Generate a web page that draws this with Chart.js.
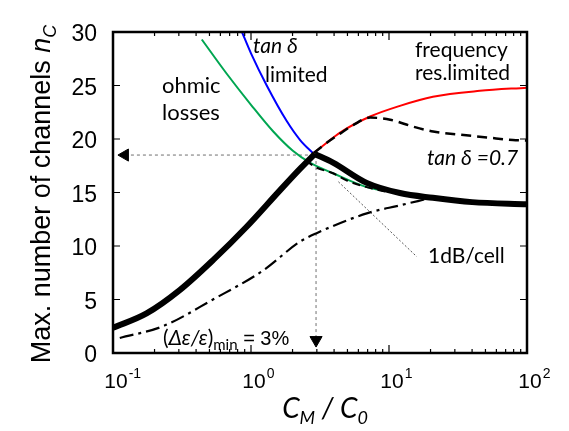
<!DOCTYPE html>
<html>
<head>
<meta charset="utf-8">
<script src="https://cdn.jsdelivr.net/npm/chart.js@4.4.1/dist/chart.umd.min.js"></script>
<style>
html, body { margin: 0; padding: 0; background: #fff; }
</style>
</head>
<body>
<canvas id="channelsChart" width="569" height="431"></canvas>
<script>
// values: x = C_M / C_0 (log), y = max. number of channels n_C
var riseX = [0.1, 0.175, 0.306, 0.533, 0.93, 1.62, 2.3, 2.9];
var riseY = [2.35, 3.7, 5.9, 8.7, 11.8, 15.2, 17.3, 18.6];
var fallX = [2.9, 3.93, 6.9, 12, 20.8, 40, 100];
var fallY = [18.6, 17.8, 15.9, 14.95, 14.5, 14.1, 13.9];

var tanUpX = [2.85, 3.5, 4.42, 5.5, 7.3, 10.2, 15, 20.9, 32.7, 51.2, 79, 100];
var tanUpY = [18.7, 19.6, 20.5, 21.3, 22.0, 21.8, 21.15, 20.7, 20.4, 20.15, 19.9, 19.85];
var tanLowX = [2.5, 2.9, 3.93, 5, 6.9, 10];
var tanLowY = [18.0, 17.4, 16.8, 16.1, 15.5, 15.0];

var freqX = [2.85, 3.5, 4.42, 7.3, 12, 20.8, 45.5, 100];
var freqY = [18.7, 19.6, 20.6, 22.1, 23.1, 23.95, 24.5, 24.8];
var lossX = [0.86, 1.0, 1.3, 1.81, 2.27, 2.85];
var lossY = [30, 28.0, 25.0, 21.7, 19.9, 18.6];
var ohmX = [0.44, 0.667, 1.0, 1.45, 2.01, 2.67, 3.93, 6.9, 12];
var ohmY = [29.3, 26.1, 23.2, 20.7, 18.9, 17.8, 16.8, 15.5, 14.95];

var epsX = [0.112, 0.23, 0.53, 1.22, 2.26, 2.99, 6.9, 12, 18.8];
var epsY = [1.4, 2.5, 5.0, 7.7, 10.4, 11.2, 13.05, 13.8, 14.4];

// guide arrows and the leader for "1dB/cell"
var hArrowX = [0.122, 2.96];
var hArrowY = [18.5, 18.5];
var vArrowX = [2.96, 2.96];
var vArrowY = [18.5, 1.21];
var leadX = [4.3, 15.9];
var leadY = [16.0, 9.0];

var yTicks = [0, 5, 10, 15, 20, 25, 30];
var xDecades = [0.1, 1, 10, 100];
var xExponents = ['-1', '0', '1', '2'];

var SANS = "'Liberation Sans', Arial, sans-serif";
var CAL = "Lato, 'Open Sans', sans-serif";

function pts(xs, ys) {
    return xs.map(function (x, i) { return { x: x, y: ys[i] }; });
}

function curve(data, color, width, dash) {
    return {
        data: data,
        borderColor: color,
        borderWidth: width,
        borderDash: dash || [],
        pointRadius: 0,
        fill: false,
        cubicInterpolationMode: 'monotone'
    };
}

function drawRuns(ctx, runs, x, y) {
    runs.forEach(function (r) {
        ctx.font = r.font;
        ctx.fillText(r.text, x, y + (r.dy || 0));
        x += ctx.measureText(r.text).width;
    });
}
function runsWidth(ctx, runs) {
    var w = 0;
    runs.forEach(function (r) { ctx.font = r.font; w += ctx.measureText(r.text).width; });
    return w;
}

// frame, inward ticks, x labels, titles and annotations
var decorPlugin = {
    id: 'decor',
    afterDatasetsDraw: function (chart) {
        var ctx = chart.ctx, a = chart.chartArea;
        var xs = chart.scales.x, ys = chart.scales.y;
        ctx.save();
        ctx.strokeStyle = '#000';
        ctx.fillStyle = '#000';

        // ticks
        ctx.lineWidth = 1.2;
        ctx.beginPath();
        xDecades.forEach(function (d, i) {
            var px = xs.getPixelForValue(d);
            ctx.moveTo(px, a.bottom); ctx.lineTo(px, a.bottom - 8);
            ctx.moveTo(px, a.top); ctx.lineTo(px, a.top + 8);
            if (i < xDecades.length - 1) {
                for (var m = 2; m <= 9; m++) {
                    var mx = xs.getPixelForValue(d * m);
                    ctx.moveTo(mx, a.bottom); ctx.lineTo(mx, a.bottom - 4);
                    ctx.moveTo(mx, a.top); ctx.lineTo(mx, a.top + 4);
                }
            }
        });
        yTicks.forEach(function (v) {
            var py = ys.getPixelForValue(v);
            ctx.moveTo(a.left, py); ctx.lineTo(a.left + 7, py);
            ctx.moveTo(a.right, py); ctx.lineTo(a.right - 7, py);
        });
        ctx.stroke();

        // frame
        ctx.lineWidth = 2.5;
        ctx.strokeRect(a.left, a.top, a.right - a.left, a.bottom - a.top);

        // x tick labels 10^n
        ctx.textBaseline = 'alphabetic';
        ctx.textAlign = 'left';
        xDecades.forEach(function (d, i) {
            var px = xs.getPixelForValue(d) + 3;
            ctx.font = '21px ' + SANS;
            var w = ctx.measureText('10').width;
            ctx.fillText('10', px - w / 2, a.bottom + 35);
            ctx.font = '14px ' + SANS;
            ctx.fillText(xExponents[i], px + w / 2 + 1, a.bottom + 25);
        });

        // x title
        var xt = [
            { text: 'C', font: 'italic 28px ' + CAL },
            { text: 'M', font: 'italic 18px ' + CAL, dy: 6 },
            { text: ' / ', font: 'italic 28px ' + CAL },
            { text: 'C', font: 'italic 28px ' + CAL },
            { text: '0', font: 'italic 18px ' + CAL, dy: 6 }
        ];
        var xw = runsWidth(ctx, xt);
        drawRuns(ctx, xt, 325 - xw / 2, a.bottom + 65);

        // y title, rotated
        var yt = [
            { text: 'Max. number of channels ', font: '27px ' + SANS },
            { text: 'n', font: 'italic 27px ' + SANS },
            { text: 'C', font: 'italic 18px ' + SANS, dy: 6 }
        ];
        var yw = runsWidth(ctx, yt);
        ctx.save();
        ctx.translate(50, 194);
        ctx.rotate(-Math.PI / 2);
        drawRuns(ctx, yt, -yw / 2, 0);
        ctx.restore();

        // curve annotations
        var f = '21px ' + CAL, fi = 'italic 21px ' + CAL;
        var L = a.left, T = a.top;
        drawRuns(ctx, [{ text: 'ohmic', font: '22px ' + CAL }], L + 49, T + 61);
        drawRuns(ctx, [{ text: 'losses', font: '22px ' + CAL }], L + 49, T + 88);
        drawRuns(ctx, [{ text: 'tan \u03b4', font: fi }], L + 140, T + 21);
        drawRuns(ctx, [{ text: 'limited', font: f }], L + 152, T + 50);
        drawRuns(ctx, [{ text: 'frequency', font: f }], L + 302, T + 25);
        drawRuns(ctx, [{ text: 'res.limited', font: f }], L + 302, T + 48);
        drawRuns(ctx, [{ text: 'tan \u03b4 =0.7', font: fi }], L + 314, T + 133);
        drawRuns(ctx, [{ text: '1dB/cell', font: f }], L + 315, T + 231);
        drawRuns(ctx, [
            { text: '(', font: '21px ' + CAL },
            { text: '\u0394\u03b5/\u03b5', font: 'italic 21px ' + CAL },
            { text: ')', font: '21px ' + CAL },
            { text: 'min', font: '15px ' + CAL, dy: 5 },
            { text: ' = 3%', font: '20px ' + SANS }
        ], L + 50, T + 313);

        ctx.restore();
    }
};

Chart.defaults.font.family = SANS;
Chart.defaults.color = '#000';

var ctx = document.getElementById('channelsChart').getContext('2d');
var arrowStyle = {
    borderColor: '#888',
    borderWidth: 1.2,
    borderDash: [3, 3],
    pointStyle: 'triangle',
    pointBackgroundColor: '#000',
    pointBorderColor: '#000',
    pointBorderWidth: 1,
    fill: false
};

var channelsChart = new Chart(ctx, {
    type: 'line',
    data: {
        datasets: [
            curve(pts(riseX, riseY), '#000', 6),
            curve(pts(fallX, fallY), '#000', 6),
            curve(pts(tanUpX, tanUpY), '#000', 2.5, [10, 6]),
            curve(pts(tanLowX, tanLowY), '#000', 2, [8, 5]),
            curve(pts(freqX, freqY), '#ff0000', 2),
            curve(pts(lossX, lossY), '#0000ff', 2),
            curve(pts(ohmX, ohmY), '#00a651', 2),
            curve(pts(epsX, epsY), '#000', 2.2, [14, 5, 3, 5]),
            Object.assign({ data: pts(hArrowX, hArrowY), pointRadius: [7, 0], pointRotation: [270, 0] }, arrowStyle),
            Object.assign({ data: pts(vArrowX, vArrowY), pointRadius: [0, 7], pointRotation: [0, 180] }, arrowStyle),
            { data: pts(leadX, leadY), borderColor: '#555', borderWidth: 1, borderDash: [2, 2], pointRadius: 0, fill: false }
        ]
    },
    options: {
        responsive: false,
        animation: false,
        layout: { padding: { left: 0, top: 32, right: 42, bottom: 0 } },
        plugins: { legend: { display: false }, tooltip: { enabled: false } },
        scales: {
            x: {
                type: 'logarithmic',
                min: 0.1,
                max: 100,
                grid: { display: false },
                border: { display: false },
                ticks: { display: false },
                afterFit: function (scale) { scale.height = 78; }
            },
            y: {
                min: 0,
                max: 30,
                grid: { display: false },
                border: { display: false },
                ticks: { stepSize: 5, font: { size: 23 }, padding: 8, labelOffset: 3 },
                afterFit: function (scale) { scale.width = 113; }
            }
        }
    },
    plugins: [decorPlugin]
});
</script>
</body>
</html>
